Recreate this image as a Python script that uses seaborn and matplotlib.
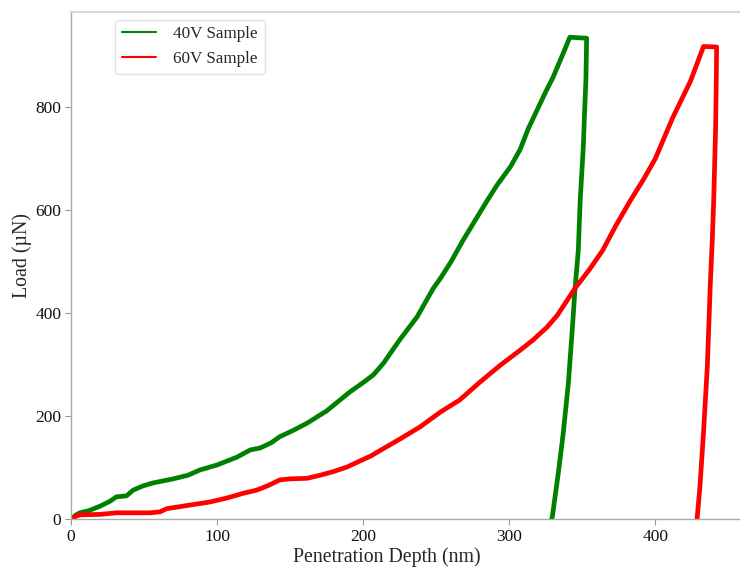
import matplotlib
matplotlib.use("Agg")
import matplotlib.pyplot as plt
import seaborn as sns
import pandas as pd
from matplotlib.lines import Line2D

# 40V sample: loading, hold, unloading
depth_40v = [0, 3, 6, 12, 20, 27, 31, 38, 42.5, 49, 56, 70, 80, 88, 100, 113.5, 122.6,
             129.5, 137, 143, 152, 161.5, 175, 191, 200, 207, 214, 225, 237, 248, 253,
             260, 268.5, 285, 292, 301, 307.5, 313, 319, 325, 330, 337, 341.5, 353,
             352.8, 352.5, 351.6, 350.7, 348.6, 347.3, 345, 343, 340.5, 337, 333.6, 329.5, 329]
load_40v = [0, 7, 12, 16, 25, 35, 43, 45, 56, 64, 70, 78, 85, 95, 105, 120, 134,
            138, 148, 160, 172, 186, 210, 247, 265, 280, 303, 348, 393, 448, 468,
            499, 542, 619, 650, 685, 718, 758, 794, 830, 858, 905, 936, 934,
            900, 852, 790, 722, 619, 522, 445, 361, 264, 167, 89, 4, 0]

# 60V sample: loading, hold, unloading
depth_60v = [0, 0.5, 6, 20, 31, 54, 61, 65.5, 79, 95, 107, 118, 127, 135, 143, 150,
             161.5, 170.5, 179.5, 189, 198, 205, 214, 225, 239, 253, 266, 280, 294,
             307.5, 316.4, 326, 333, 345, 355, 364, 373, 383, 392, 400, 406, 412,
             418, 424, 428, 433, 442,
             441.8, 441.3, 440, 439, 437.7, 435.6, 433, 430.5, 428.6]
load_60v = [0, 2, 8, 9, 12, 12, 14, 20, 26, 33, 41, 50, 56, 65, 76, 78,
            79, 85, 92, 101, 113, 122, 137, 155, 179, 208, 231, 266, 299,
            328, 348, 373, 396, 448, 485, 522, 570, 619, 660, 700, 740, 780,
            815, 850, 880, 918, 917,
            860, 760, 619, 540, 458, 295, 167, 60, 0]

series_names = ["40V Sample", "60V Sample"]
series_colors = ["green", "red"]
x_ticks = [0, 100, 200, 300, 400]
y_ticks = [0, 200, 400, 600, 800]

sns.set_theme(style="ticks")
plt.rcParams["font.family"] = ["Liberation Serif", "DejaVu Serif"]

fig = plt.figure(figsize=(7.4, 5.67), dpi=100)
ax = fig.add_axes([71 / 740, 48 / 567, 669 / 740, 507 / 567])

df40 = pd.DataFrame({"depth": depth_40v, "load": load_40v})
df60 = pd.DataFrame({"depth": depth_60v, "load": load_60v})
sns.lineplot(data=df40, x="depth", y="load", sort=False, estimator=None,
             color=series_colors[0], lw=3.4, ax=ax)
sns.lineplot(data=df60, x="depth", y="load", sort=False, estimator=None,
             color=series_colors[1], lw=3.4, ax=ax)

ax.set_xlim(0, 458)
ax.set_ylim(0, 985)
ax.set_xticks(x_ticks)
ax.set_yticks(y_ticks)
ax.set_xlabel("Penetration Depth (nm)", fontsize=14.3)
ax.set_ylabel("Load (µN)", fontsize=14.3)
ax.xaxis.set_label_coords(0.472, -0.056)
ax.yaxis.set_label_coords(-0.059, 0.52)
ax.tick_params(axis="both", labelsize=12.5, length=4, width=0.8,
               color="#999999", labelcolor="#111111", pad=3)

for side in ["left", "bottom"]:
    ax.spines[side].set_color("#aaaaaa")
    ax.spines[side].set_linewidth(1.0)
ax.spines["top"].set_visible(True)
ax.spines["top"].set_color("#d8d8d8")
ax.spines["top"].set_linewidth(1.5)
ax.spines["right"].set_visible(False)

handles = [Line2D([0], [0], color=c, lw=1.5) for c in series_colors]
ax.legend(handles, series_names, loc="upper left", bbox_to_anchor=(0.066, 0.985),
          borderaxespad=0, fontsize=12.3, frameon=True, framealpha=0.8,
          edgecolor="#dddddd", handlelength=2.0, handletextpad=1.0)

fig.savefig("out.png", dpi=100)
